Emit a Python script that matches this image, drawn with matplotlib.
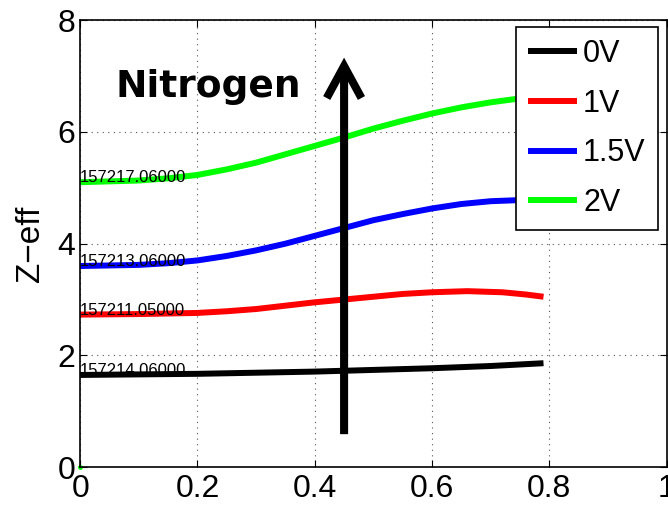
import numpy as np
import matplotlib.pyplot as plt

plt.rcParams['font.family'] = ['Liberation Sans', 'DejaVu Sans']

# values
x_black = [0.0, 0.1, 0.2, 0.3, 0.4, 0.5, 0.6, 0.7, 0.79]
y_black = [1.65, 1.66, 1.67, 1.69, 1.71, 1.74, 1.77, 1.81, 1.86]

x_red = [0.0, 0.1, 0.2, 0.25, 0.3, 0.35, 0.4, 0.45, 0.5, 0.55, 0.6, 0.66, 0.72, 0.76, 0.79]
y_red = [2.73, 2.74, 2.76, 2.79, 2.83, 2.89, 2.95, 3.0, 3.05, 3.1, 3.13, 3.15, 3.13, 3.09, 3.05]

x_blue = [0.0, 0.1, 0.15, 0.2, 0.25, 0.3, 0.35, 0.4, 0.45, 0.5, 0.55, 0.6, 0.65, 0.7, 0.75, 0.79]
y_blue = [3.6, 3.62, 3.65, 3.7, 3.78, 3.88, 4.0, 4.14, 4.28, 4.42, 4.53, 4.63, 4.71, 4.76, 4.78, 4.75]

x_green = [0.0, 0.1, 0.15, 0.2, 0.25, 0.3, 0.35, 0.4, 0.45, 0.5, 0.55, 0.6, 0.65, 0.7, 0.75, 0.79]
y_green = [5.1, 5.13, 5.17, 5.23, 5.33, 5.45, 5.6, 5.75, 5.9, 6.06, 6.2, 6.33, 6.44, 6.53, 6.6, 6.65]

labels = ['0V', '1V', '1.5V', '2V']
shot_ids = ['157214.06000', '157211.05000', '157213.06000', '157217.06000']
colors = ['k', 'r', 'b', '#00ff00']

fig = plt.figure(figsize=(6.68, 5.05), dpi=100)
ax = fig.add_axes([0.120, 0.075, 0.878, 0.885])

series = [(x_black, y_black), (x_red, y_red), (x_blue, y_blue), (x_green, y_green)]
for (xs, ys), c, lab in zip(series, colors, labels):
    ax.plot(xs, ys, color=c, lw=4.3, label=lab, solid_capstyle='butt')

for (xs, ys), sid in zip(series, shot_ids):
    ax.text(xs[0], ys[0] + 0.08, sid, fontsize=12, va='center', ha='left')

ax.plot([0], [0], 'o', color='#00ff00', ms=2.5, clip_on=False)

ax.annotate('', xy=(0.45, 7.33), xytext=(0.45, 0.59),
            arrowprops=dict(arrowstyle='->,head_width=1.25,head_length=2.3',
                            color='k', lw=5.8, shrinkA=0, shrinkB=0,
                            capstyle='butt', joinstyle='miter'))
ax.text(0.06, 6.8, 'Nitrogen', fontsize=27, fontweight='bold', va='center', ha='left',
        family='DejaVu Sans')

ax.set_xlim(0, 1)
ax.set_ylim(0, 8)
ax.set_xticks([0, 0.2, 0.4, 0.6, 0.8, 1])
ax.set_xticklabels(['0', '0.2', '0.4', '0.6', '0.8', '1'])
ax.set_yticks([0, 2, 4, 6, 8])
ax.grid(True, linestyle=(0, (1, 4)), color='#555555', lw=0.8)
ax.tick_params(direction='in', labelsize=23, length=5, top=True, right=True)
ax.tick_params(axis='x', pad=5)
for s in ax.spines.values():
    s.set_linewidth(1.2)
ax.set_ylabel('Z\u2212eff', fontsize=24, labelpad=8)

leg = ax.legend(loc='upper right', fontsize=22, handlelength=1.6, handletextpad=0.2,
                borderpad=0.4, labelspacing=0.64, fancybox=False, framealpha=1,
                edgecolor='k', bbox_to_anchor=(0.985, 0.985), borderaxespad=0)
leg.get_frame().set_linewidth(1.2)
for h in leg.get_lines():
    h.set_linewidth(4.3)

fig.savefig('out.png', dpi=100)
